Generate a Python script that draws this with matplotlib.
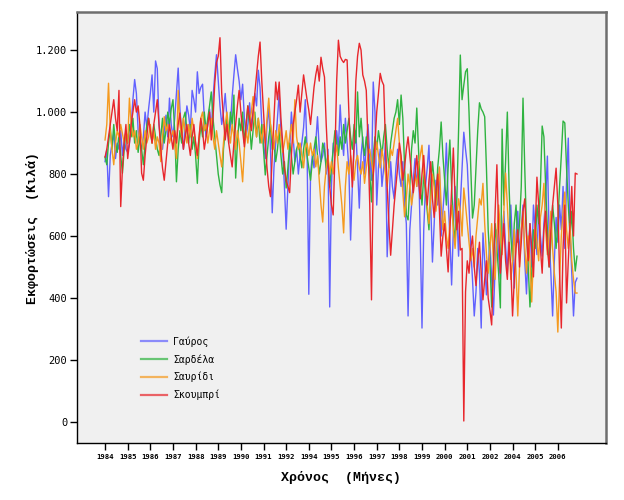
"""
plot.py - Εκφορτώσεις ανά μήνα (1984-2006) για τέσσερα είδη ψαριών.

Τα δεδομένα είναι μηνιαίες τιμές (κιλά) διαβασμένες από το γράφημα,
μπλοκ των 13 περιπτώσεων ανά σημείο του άξονα x (όπως στο αρχικό SPSS).
"""

import matplotlib
matplotlib.use("Agg")
import matplotlib.pyplot as plt
from matplotlib.ticker import FuncFormatter

# ------------------------------------------------------------------ #
# Δεδομένα
# ------------------------------------------------------------------ #
etiquetas_anos = ["1984", "1985", "1986", "1987", "1988", "1989", "1990",
                  "1991", "1992", "1994", "1995", "1996", "1997", "1998",
                  "1999", "2000", "2001", "2002", "2004", "2005", "2006"]
passo_ticks = 13

gavros = [
    840, 880, 727, 860, 900, 930, 850, 900, 880, 940, 860, 910, 880,
    870, 900, 960, 1040, 1105, 1060, 940, 900, 880, 920, 1000, 950, 1010,
    1060, 1120, 1000, 1165, 1140, 960, 900, 880, 940, 990, 920, 1045, 960,
    920, 980, 1060, 1142, 1010, 930, 880, 960, 1020, 990, 940, 1070, 1040,
    1000, 1130, 1060, 1080, 1090, 980, 920, 960, 1010, 940, 1045, 1120, 1185,
    1100, 1020, 960, 1000, 1060, 980, 900, 960, 1050, 1120, 1185, 1140, 1100,
    1040, 1090, 980, 920, 960, 1030, 950, 1000, 1060, 1020, 1135, 1080, 960,
    900, 850, 960, 1020, 880, 675, 820, 900, 980, 1060, 940, 880, 760,
    622, 760, 880, 1000, 920, 840, 880, 800, 860, 900, 950, 1040, 880,
    412, 800, 860, 820, 900, 985, 880, 840, 860, 900, 800, 880, 371,
    760, 900, 860, 940, 880, 1023, 920, 860, 980, 900, 820, 587, 760,
    880, 940, 820, 690, 860, 920, 800, 900, 960, 860, 780, 1097, 1000,
    700, 820, 880, 760, 820, 900, 533, 680, 840, 760, 720, 820, 880,
    800, 760, 840, 700, 640, 342, 620, 700, 780, 850, 760, 840, 600,
    303, 620, 760, 820, 893, 700, 516, 640, 780, 700, 820, 600, 680,
    760, 900, 720, 600, 442, 620, 760, 680, 535, 700, 820, 935, 880,
    830, 700, 560, 460, 342, 420, 560, 480, 303, 610, 520, 410, 500,
    580, 460, 345, 500, 620, 540, 460, 600, 680, 565, 480, 620, 700,
    560, 432, 600, 680, 540, 620, 700, 520, 413, 560, 640, 500, 700,
    620, 540, 680, 600, 535, 640, 720, 858, 600, 480, 342, 520, 660,
    580, 700, 620, 760, 560, 780, 916, 620, 480, 342, 450, 464,
]

sardela = [
    855, 830, 900, 950, 880, 960, 900, 870, 930, 860, 803, 880, 940,
    900, 960, 920, 980, 900, 940, 870, 920, 880, 830, 900, 960, 980,
    940, 900, 960, 920, 880, 860, 920, 980, 900, 940, 1000, 960, 1010,
    1040, 940, 775, 880, 940, 900, 980, 1000, 940, 900, 960, 880, 920,
    860, 770, 900, 960, 920, 1000, 940, 980, 1020, 1065, 980, 920, 860,
    800, 765, 740, 880, 940, 980, 920, 1000, 960, 1055, 787, 900, 980,
    940, 1000, 900, 960, 1020, 960, 880, 940, 1000, 920, 980, 900, 960,
    880, 797, 860, 920, 960, 880, 900, 840, 880, 940, 860, 800, 840,
    755, 820, 900, 860, 800, 840, 880, 900, 860, 820, 880, 920, 860,
    820, 780, 840, 880, 920, 860, 800, 840, 900, 880, 820, 860, 758,
    820, 880, 940, 900, 860, 920, 880, 960, 900, 940, 980, 920, 880,
    960, 900, 1065, 920, 980, 900, 860, 920, 880, 800, 710, 860, 920,
    880, 940, 900, 860, 920, 960, 880, 820, 900, 940, 980, 1000, 1040,
    960, 1055, 980, 820, 668, 652, 760, 880, 940, 900, 1013, 880, 760,
    700, 800, 740, 680, 620, 760, 840, 780, 700, 820, 880, 968, 860,
    780, 700, 820, 910, 760, 640, 580, 720, 940, 1184, 1040, 1087, 1130,
    1140, 1000, 820, 658, 700, 820, 940, 1030, 1010, 1000, 985, 820, 620,
    520, 371, 500, 640, 560, 480, 368, 945, 700, 840, 1000, 760, 600,
    520, 640, 700, 580, 640, 760, 1045, 820, 620, 500, 371, 480, 620,
    560, 700, 640, 760, 955, 920, 760, 620, 500, 580, 700, 640, 560,
    640, 760, 860, 971, 965, 820, 700, 600, 680, 560, 487, 535,
]

savridi = [
    910, 960, 1093, 940, 880, 830, 900, 940, 920, 960, 930, 900, 940,
    900, 1045, 960, 920, 940, 880, 900, 960, 920, 880, 940, 900, 920,
    960, 900, 940, 880, 920, 900, 840, 920, 985, 940, 960, 900, 920,
    940, 900, 850, 1070, 960, 920, 980, 940, 900, 960, 920, 980, 940,
    900, 850, 920, 980, 1000, 940, 960, 900, 940, 980, 920, 880, 940,
    900, 860, 823, 900, 960, 1000, 940, 900, 960, 920, 880, 940, 900,
    840, 775, 880, 940, 900, 960, 1000, 1050, 960, 920, 980, 940, 900,
    960, 900, 980, 1045, 960, 920, 880, 940, 900, 960, 920, 870, 900,
    940, 880, 920, 960, 900, 1040, 920, 880, 900, 860, 820, 880, 900,
    860, 900, 860, 880, 823, 860, 780, 700, 645, 760, 820, 860, 800,
    840, 800, 860, 893, 820, 760, 700, 610, 760, 840, 800, 860, 820,
    780, 840, 860, 820, 800, 840, 770, 820, 860, 880, 840, 800, 860,
    903, 860, 820, 880, 840, 800, 760, 820, 880, 860, 900, 940, 980,
    900, 820, 740, 662, 720, 800, 760, 700, 740, 800, 760, 820, 860,
    893, 800, 760, 700, 640, 720, 800, 760, 680, 740, 823, 700, 620,
    680, 600, 560, 640, 700, 620, 560, 660, 720, 680, 600, 755, 700,
    640, 580, 520, 560, 500, 600, 660, 720, 700, 770, 640, 540, 480,
    560, 640, 520, 460, 600, 700, 620, 540, 680, 803, 700, 580, 460,
    520, 620, 480, 342, 500, 620, 680, 560, 480, 600, 520, 387, 540,
    640, 580, 520, 660, 700, 770, 620, 540, 600, 680, 560, 480, 420,
    290, 460, 600, 680, 742, 620, 560, 640, 520, 460, 416, 416,
]

skoumpri = [
    855, 880, 920, 960, 1000, 1040, 980, 940, 1070, 695, 820, 900, 960,
    850, 900, 960, 1000, 1040, 1000, 1020, 960, 803, 780, 860, 920, 980,
    940, 900, 960, 1000, 1040, 960, 880, 820, 780, 840, 900, 960, 920,
    880, 940, 900, 960, 997, 940, 880, 920, 960, 900, 860, 920, 960,
    900, 860, 920, 980, 940, 880, 920, 960, 1000, 910, 980, 1093, 1160,
    1180, 1240, 1060, 980, 910, 960, 900, 860, 823, 900, 960, 1020, 1070,
    1000, 940, 888, 960, 1020, 980, 940, 1000, 1060, 1120, 1180, 1226, 1100,
    1000, 900, 820, 760, 727, 860, 980, 1097, 1040, 1097, 980, 900, 820,
    780, 760, 740, 860, 960, 1000, 1040, 1087, 1000, 1060, 1120, 1080, 1040,
    1006, 960, 1020, 1080, 1120, 1150, 1100, 1177, 1140, 1113, 960, 840, 760,
    700, 668, 860, 1100, 1232, 1180, 1168, 1160, 1170, 1168, 1000, 860, 758,
    900, 1100, 1180, 1222, 1200, 1120, 1100, 1070, 900, 700, 394, 790, 900,
    1000, 1060, 1125, 1100, 1087, 900, 760, 640, 538, 620, 700, 760, 820,
    900, 860, 780, 820, 880, 920, 860, 800, 740, 800, 860, 780, 720,
    800, 860, 760, 700, 780, 840, 720, 660, 740, 800, 680, 535, 600,
    640, 560, 484, 620, 760, 884, 720, 620, 680, 555, 560, 3, 420,
    520, 480, 560, 600, 500, 440, 520, 580, 480, 394, 460, 520, 400,
    360, 313, 500, 680, 830, 620, 480, 560, 640, 520, 460, 580, 500,
    342, 460, 560, 620, 500, 580, 680, 720, 600, 520, 640, 560, 468,
    620, 790, 700, 560, 480, 620, 680, 560, 500, 620, 700, 760, 819,
    700, 480, 303, 560, 700, 384, 520, 640, 760, 600, 803, 800,
]

series = [
    ("Γαύρος", gavros, "#6161ff"),
    ("Σαρδέλα", sardela, "#2fb340"),
    ("Σαυρίδι", savridi, "#f59a1f"),
    ("Σκουμπρί", skoumpri, "#e8262c"),
]

# ------------------------------------------------------------------ #
# Γράφημα
# ------------------------------------------------------------------ #
fig = plt.figure(figsize=(6.24, 5.0), dpi=100)
ax = fig.add_axes([0.1234, 0.114, 0.8476, 0.862])
ax.set_facecolor("#f0f0f0")

for nome, valores, cor in series:
    ax.plot(range(len(valores)), valores, color=cor, linewidth=1.0, label=nome)

ax.set_xlim(-16.1, 287.6)
ax.set_ylim(-68, 1323)

ticks_x = [i * passo_ticks for i in range(len(etiquetas_anos))]
ax.set_xticks(ticks_x)
ax.set_xticklabels(etiquetas_anos, fontsize=5.2, fontweight="bold",
                   family="DejaVu Sans Mono")
ax.set_yticks([0, 200, 400, 600, 800, 1000, 1200])
ax.yaxis.set_major_formatter(
    FuncFormatter(lambda v, _p: f"{int(v):,}".replace(",", ".")))
for lab in ax.get_yticklabels():
    lab.set_family("DejaVu Sans Mono")
    lab.set_fontsize(7.5)

ax.tick_params(axis="both", direction="out", length=5, width=1, color="black")
ax.tick_params(axis="x", pad=3)
ax.tick_params(axis="y", pad=2)

for lado in ("left", "bottom"):
    ax.spines[lado].set_color("black")
    ax.spines[lado].set_linewidth(1.0)
for lado in ("top", "right"):
    ax.spines[lado].set_color("#6e6e6e")
    ax.spines[lado].set_linewidth(1.8)

ax.set_xlabel("Χρόνος  (Μήνες)", fontsize=9.5, fontweight="bold",
              family="Liberation Mono", labelpad=8)
ax.set_ylabel("Εκφορτώσεις  (Κιλά)", fontsize=9.5, fontweight="bold",
              family="Liberation Mono", labelpad=-2)

leg = ax.legend(loc="upper left", bbox_to_anchor=(0.105, 0.268), frameon=False,
                handlelength=2.6, handletextpad=0.7, labelspacing=0.75,
                prop={"family": "DejaVu Sans Mono", "size": 7})
for linha in leg.get_lines():
    linha.set_linewidth(1.6)
    linha.set_alpha(0.7)

fig.savefig("out.png", dpi=100, facecolor="white")
